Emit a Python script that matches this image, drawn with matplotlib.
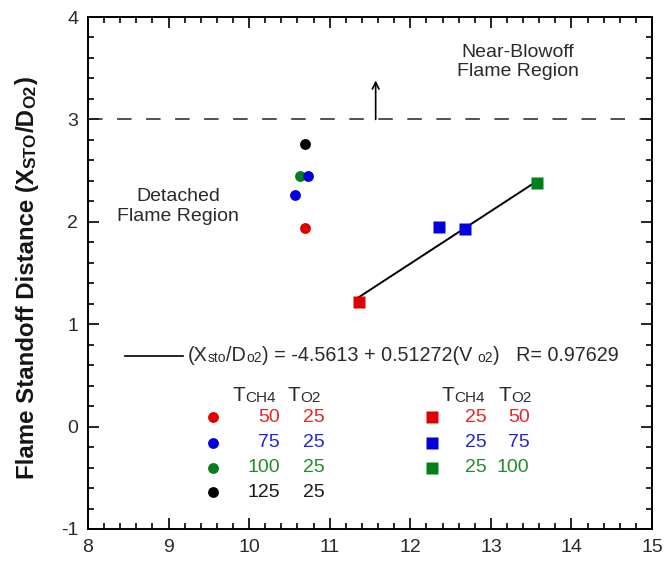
import matplotlib
matplotlib.use("Agg")
import matplotlib.pyplot as plt
from matplotlib.ticker import MultipleLocator

plt.rcParams['font.family'] = ['Liberation Sans', 'DejaVu Sans']
plt.rcParams['axes.unicode_minus'] = False

# ---- data ----
circ_red_x = [10.69];            circ_red_y = [1.94]
circ_blue_x = [10.73, 10.57];    circ_blue_y = [2.45, 2.26]
circ_green_x = [10.63];          circ_green_y = [2.45]
circ_black_x = [10.69];          circ_black_y = [2.76]

sq_red_x = [11.36];              sq_red_y = [1.22]
sq_blue_x = [12.35, 12.68];      sq_blue_y = [1.95, 1.93]
sq_green_x = [13.57];            sq_green_y = [2.38]

fit_intercept = -4.5613
fit_slope = 0.51272
fit_r = 0.97629

circ_legend = [("50", "25"), ("75", "25"), ("100", "25"), ("125", "25")]
sq_legend = [("25", "50"), ("25", "75"), ("25", "100")]

RED = '#e00000'; BLUE = '#0000dd'; GREEN = '#00801a'; BLACK = '#000000'
TRED = '#e02828'; TBLUE = '#2323e0'; TGREEN = '#238c2a'; TBLACK = '#1a1a1a'
TXT = '#2a2a2a'

fig = plt.figure(figsize=(6.64, 5.63), dpi=100)
ax = fig.add_axes([0.1325, 0.0604, 0.8495, 0.9094])
ax.set_xlim(8, 15)
ax.set_ylim(-1, 4)

ax.xaxis.set_major_locator(MultipleLocator(1))
ax.xaxis.set_minor_locator(MultipleLocator(0.2))
ax.yaxis.set_major_locator(MultipleLocator(1))
ax.yaxis.set_minor_locator(MultipleLocator(0.2))
ax.tick_params(which='both', direction='in', top=True, right=True, width=1.2)
ax.tick_params(which='major', length=8, labelsize=14, pad=7, labelcolor=TXT)
ax.tick_params(which='minor', length=4)
for s in ax.spines.values():
    s.set_linewidth(1.4)

# dashed boundary
ax.axhline(3.0, color='#222222', lw=1.1, dashes=(9.5, 9.5))
ax.annotate('', xy=(11.57, 3.38), xytext=(11.57, 3.0),
            arrowprops=dict(arrowstyle='->', lw=1.2, color='black', mutation_scale=12,
                            shrinkA=0, shrinkB=0))

# markers
ms_c = 7.8; ms_s = 8.2
ax.plot(circ_red_x, circ_red_y, 'o', color=RED, ms=ms_c, mec='none')
ax.plot(circ_green_x, circ_green_y, 'o', color=GREEN, ms=ms_c, mec='none')
ax.plot(circ_blue_x, circ_blue_y, 'o', color=BLUE, ms=ms_c, mec='none')
ax.plot(circ_black_x, circ_black_y, 'o', color=BLACK, ms=ms_c, mec='none')

# fit line
xs_all = sq_red_x + sq_blue_x + sq_green_x
fx = [min(xs_all), max(xs_all)]
fy = [fit_intercept + fit_slope * v for v in fx]
ax.plot(fx, fy, color='black', lw=1.4)

ax.plot(sq_red_x, sq_red_y, 's', color=RED, ms=ms_s, mec='none')
ax.plot(sq_blue_x, sq_blue_y, 's', color=BLUE, ms=ms_s, mec='none')
ax.plot(sq_green_x, sq_green_y, 's', color=GREEN, ms=ms_s, mec='none')

# region labels
ax.text(13.33, 3.56, "Near-Blowoff\nFlame Region", fontsize=14, ha='center', va='center',
        color=TXT, linespacing=1.2)
ax.text(9.12, 2.15, "Detached\nFlame Region", fontsize=14, ha='center', va='center',
        color=TXT, linespacing=1.2)


def chain(x, y, pieces, color=TXT, va='center'):
    t = ax.text(x, y, pieces[0][0], fontsize=pieces[0][1], ha='left', va=va, color=color)
    prev = t
    for s, fs in pieces[1:]:
        prev = ax.annotate(s, xy=(1, 0), xycoords=prev, fontsize=fs, ha='left', va='bottom',
                           color=color)
    return t


# equation legend
ax.plot([8.46, 9.18], [0.69, 0.69], color='black', lw=1.2)
chain(9.24, 0.69, [("(X", 14.2), ("sto", 10), ("/D", 14.2), ("o2", 10),
                   (") = %.4f + %.5f(V " % (fit_intercept, fit_slope), 14.2), ("o2", 10),
                   (")   R= %.5f" % fit_r, 14.2)])

# circle legend
chain(9.79, 0.30, [("T", 15), ("CH4", 11)])
chain(10.48, 0.30, [("T", 15), ("O2", 11)])
circ_cols = [(RED, TRED), (BLUE, TBLUE), (GREEN, TGREEN), (BLACK, TBLACK)]
circ_rows = [0.09, -0.16, -0.40, -0.64]
for (a, b), (mc, tc), yy in zip(circ_legend, circ_cols, circ_rows):
    ax.plot([9.55], [yy], 'o', color=mc, ms=ms_c, mec='none')
    ax.text(10.38, yy, a, fontsize=14, ha='right', va='center', color=tc)
    ax.text(10.94, yy, b, fontsize=14, ha='right', va='center', color=tc)

# square legend
chain(12.39, 0.30, [("T", 15), ("CH4", 11)])
chain(13.09, 0.30, [("T", 15), ("O2", 11)])
sq_cols = [(RED, TRED), (BLUE, TBLUE), (GREEN, TGREEN)]
sq_rows = [0.09, -0.16, -0.40]
for (a, b), (mc, tc), yy in zip(sq_legend, sq_cols, sq_rows):
    ax.plot([12.27], [yy], 's', color=mc, ms=ms_s, mec='none')
    ax.text(12.95, yy, a, fontsize=14, ha='right', va='center', color=tc)
    ax.text(13.48, yy, b, fontsize=14, ha='right', va='center', color=tc)

# y label built from pieces (small letters sit on the baseline)
ylab = [("Flame Standoff Distance (X", 17.3), ("STO", 12.5), ("/D", 17.3), ("O2", 12.5), (")", 17.3)]
last = fig.text(0.058, 0.150, ylab[0][0], fontsize=ylab[0][1], fontweight='bold',
                rotation=90, ha='right', va='bottom', color='#151515')
for s, fs in ylab[1:]:
    last = ax.annotate(s, xy=(1, 1), xycoords=last, fontsize=fs, fontweight='bold',
                       rotation=90, ha='right', va='bottom', color='#151515',
                       annotation_clip=False)

fig.savefig('out.png', dpi=100)
